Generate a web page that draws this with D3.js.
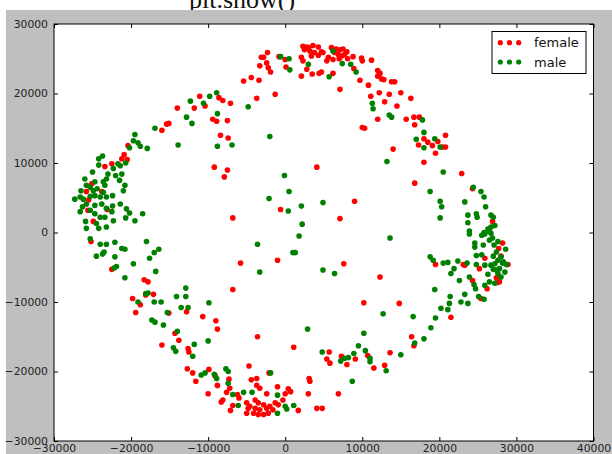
<!DOCTYPE html>
<html><head><meta charset="utf-8">
<script src="https://cdn.jsdelivr.net/npm/d3@7"></script>
<style>html,body{margin:0;padding:0;background:#fff;} svg{display:block;}</style>
</head><body>
<svg id="chart" width="612" height="454"></svg>
<script>
const xTicks = [-30000, -20000, -10000, 0, 10000, 20000, 30000, 40000];
const yTicks = [-30000, -20000, -10000, 0, 10000, 20000, 30000];
const seriesNames = ["female", "male"];
const captionText = "plt.show()";

const female = [
[-8600,19400],[-8100,19000],[-7100,18600],[-11100,19600],[-11800,17900],[-10400,18200],[-14000,17900],[-9400,16300],[-8900,16000],[-7500,16100],[-15100,15700],[-15400,15600],[-16000,14700],[-8400,14000],[-7400,13600],[-20400,12500],[-9200,9400],[-7500,9000],[-7900,8000],[-6800,2100],[-20900,11200],[-21200,10600],[-20500,10500],[-23400,9500],[-22500,9900],[-25100,7000],[-25800,5900],[-23800,5900],[-25500,4700],[-25600,3200],[-23100,3300],[-24900,1600],
[2300,26800],[2800,26700],[3600,26900],[4300,26700],[2500,26300],[3200,26100],[3800,25900],[3400,25400],[4700,26000],[3000,26600],[6000,26600],[6600,26400],[7100,26300],[7500,26400],[6400,25900],[6900,25600],[7300,25400],[7700,25600],[8000,26000],[5600,25200],[5400,24700],[6200,24900],[7000,25000],[4900,25900],[4300,25500],[2100,25200],[2300,24700],[2800,23500],[2100,22500],[3500,22800],[4400,22900],[4700,23100],[6200,22900],[8100,25000],[8800,25300],[8900,23600],[9900,25100],[10000,24700],[11200,24800],[9700,21900],[10800,21200],[7100,20600],
[-3100,25200],[-2800,25200],[-2300,25900],[-2400,24400],[-3300,24000],[-2200,23700],[-1900,23100],[-800,25300],[0,24900],[100,23800],[-4400,22300],[-5400,21800],[-3400,21900],[-1300,19900],[-3700,19300],
[12000,23300],[12300,22900],[12000,22500],[12500,22100],[12800,22000],[13800,21700],[14200,21700],[12200,20100],[13500,19900],[15000,20100],[11100,19600],[12900,18800],[14500,18200],[16300,19300],[12000,16300],[15700,16300],[16700,16600],[16800,15500],[10000,15100],[10300,15000],
[14000,12000],[4100,9400],[-600,3300],[9000,4500],[7100,2000],[16800,7100],
[17400,16600],[18000,13500],[17300,12600],[18500,13000],[19100,12500],[19800,13100],[20400,12300],[20800,12300],[20800,14000],[19500,11400],[18000,10100],[22900,8500],[24300,6300],[26900,1600],
[28200,-1500],[27700,-2300],[25900,-3700],[28000,-3400],[28900,-4600],[27400,-6500],[27800,-7100],[27500,-7200],[26200,-8100],[25200,-5200],[23100,-4600],[23300,-4700],[19500,-4600],[24300,-6900],[25400,-9500],[21500,-12200],
[-25200,-1300],[-22500,-5300],[-18300,-6800],[-17800,-7100],[-18100,-9000],[-17100,-8900],[-19800,-9500],[-18800,-10400],[-19400,-11500],[-15100,-11600],[-12800,-11400],[-10700,-12100],[-9000,-12700],[-8800,-13900],[-14300,-14500],[-13800,-15500],[-16000,-16200],[-12600,-16700],[-12500,-17200],[-12700,-19600],[-12000,-20200],[-11600,-21400],[-9900,-19700],[-9100,-20600],[-8800,-22000],[-10000,-23200],[-7300,-21100],[-7200,-22400],[-7600,-23000],[-8100,-24100],[-8300,-24400],[-6800,-24900],[-7100,-25600],[-6800,-8200],
[-5800,-4400],[-1000,-4000],[7600,-4500],[12300,-6400],[10200,-10100],[14800,-10200],[-3600,-15000],[1100,-16500],[16400,-15000],[16700,-16300],[13600,-17300],[5700,-17200],[5400,-18200],[5800,-18800],[7300,-17800],[9100,-18200],[10700,-17700],[11500,-19500],[12900,-19100],[8000,-19000],[3100,-21000],[3200,-21400],[3000,-23200],[6900,-23200],[4100,-25300],[4800,-25300],
[-4700,-19200],[-2100,-20200],[-4400,-21200],[-3700,-21000],[-3700,-22000],[-3300,-22400],[-6200,-23300],[-2400,-23200],[-1000,-22200],[400,-22500],[700,-22900],[0,-23200],[-6000,-23800],[-5000,-24500],[-4600,-25000],[-3900,-24100],[-3500,-24500],[-2800,-24800],[-2400,-25300],[-2000,-25000],[-1300,-24500],[-900,-24800],[-300,-24100],[-5000,-26000],[-4100,-26000],[-3500,-26200],[-2800,-26200],[1700,-25600],[-1600,-25500],[-2200,-26000],[-3300,-25500],[-3900,-25300],[-4800,-25300]
];

const male = [
[-8900,20100],[-9800,19600],[-12300,18900],[-10600,18600],[-8800,17100],[-12800,16600],[-12100,15700],[-16900,15000],[-8800,12400],[-6900,12600],[-13900,12600],[-19500,14100],[-19700,13200],[-19100,12900],[-20200,12200],[-18800,12400],[-17900,12100],[-23700,11000],[-24200,10600],[-24200,9700],[-22300,9200],[-21700,9900],[-21400,9600],[-20700,10000],[-21200,8400],[-22000,8200],[-23000,8400],[-23200,7700],[-23600,7300],[-23400,6800],[-25000,8700],[-26000,7700],[-25800,6800],[-24700,7300],[-25300,6500],[-24900,6000],[-24400,6300],[-23600,5800],[-23200,5100],[-24000,5100],[-24700,5300],[-25300,5200],[-26500,6000],[-26600,5100],[-27300,4800],[-26200,4800],[-25800,4100],[-26300,3700],[-26600,3000],[-25300,3200],[-24700,3900],[-23800,4100],[-23200,3500],[-22400,3800],[-21400,4100],[-20800,6800],[-21500,7500],[-21000,6000],[-22400,5300],[-22500,3000],[-20600,3400],[-20200,2800],[-18500,2700],[-19500,1700],[-20700,2100],[-24700,2700],[-24000,2200],[-23400,2200],[-25900,1600],[-24500,1300],[-24200,600],[-23200,800],[-25800,600],[-22300,1700],
[6200,26100],[3000,24200],[5700,22400],[7400,24300],[8500,24200],[9200,23100],[-600,25300],[500,25000],[600,23400],[-4800,18100],[11300,18600],[11400,17800],[13500,16900],[13800,16600],[-2000,13800],[13200,10200],[-100,8200],[500,5900],[-2100,4900],[400,3100],[2100,3800],[4900,4300],[2200,1200],
[17800,16200],[18000,14400],[17000,13400],[19400,13500],[20100,12300],[18000,12200],[20500,8700],[18800,5900],[20100,4500],[20300,3700],[20100,2100],[24400,6500],[25400,5900],[25800,5100],[23300,4400],[26000,3700],[23700,2500],[24800,2700],[24900,2200],[23700,1400],[26700,2500],[27000,2200],[27200,1000],[26700,800],[26300,500],[23900,200],
[26500,100],[25800,0],[26900,-800],[27600,-1300],[28000,-3500],[28200,-4400],[27400,-5400],
[23900,-200],[25500,-400],[25900,-200],[26700,-100],[24600,-1500],[25700,-1800],[26500,-1100],[27100,-1800],[28600,-2400],[27400,-2800],[27000,-3400],[25500,-3200],[24800,-3300],[24600,-2100],[27600,-4000],[28300,-4200],[28700,-4600],[27200,-4500],[26700,-4700],[25900,-4700],[27000,-5300],[27800,-5200],[28500,-5700],[27600,-5900],[28000,-6400],[27200,-7300],[26300,-6000],[26500,-7100],[25900,-7600],[24800,-4600],[22400,-4100],[23600,-4400],[21100,-4300],[20500,-4400],[18800,-3500],[19200,-4000],[21900,-5200],[21500,-5900],[22600,-6900],[23900,-6400],[24500,-7500],[24700,-8100],[25100,-9200],[25800,-9600],[23300,-8900],[22800,-10000],[23700,-10200],[21400,-9200],[21300,-10200],[20200,-10900],[21100,-11100],[19500,-12300],[19400,-8200],[18900,-13700],[18000,-15300],
[-25300,-900],[-24000,-1700],[-23200,-1700],[-22100,-1400],[-21200,-2300],[-20800,-2400],[-23500,-2800],[-23700,-3100],[-24500,-3400],[-22100,-3500],[-21900,-4900],[-22200,-5100],[-19700,-4500],[-18000,-1300],[-16400,-2400],[-17000,-2900],[-17600,-3700],[-16800,-5600],[-20800,-6500],[-18100,-8800],[-17800,-8700],[-19100,-10000],[-17000,-10000],[-16100,-10000],[-17300,-12600],[-16900,-12900],[-15800,-13300],[-15300,-11500],[-14100,-9200],[-12900,-8000],[-12900,-9200],[-13500,-10800],[-12600,-10800],[-9900,-10100],[-10000,-15600],[-14000,-14200],[-14500,-16600],[-14200,-17100],[-11800,-16100],[-12000,-17800],[-10900,-20500],[-10400,-20200],[-9200,-20400],[-8900,-21000],[-7700,-19600],[-7400,-20000],[-7400,-21700],[-6800,-23300],
[1800,-500],[-3600,-1700],[1000,-2900],[1300,-2900],[-3300,-5700],[4900,-5400],[6400,-5900],[13600,-800],[12700,-11700],[16600,-12100],[2900,-13900],[10200,-14500],[9500,-16300],[16800,-15900],[10400,-17000],[15000,-17600],[4800,-17200],[7200,-18500],[7700,-18100],[8200,-18000],[8900,-17400],[11000,-18100],[11000,-18600],[13100,-19900],[8700,-21400],
[-1900,-20200],[-5400,-23000],[-4300,-23000],[-1000,-23400],[-6100,-24900],[0,-25000],[-1000,-26000],[1100,-24900],[200,-25400]
];

// ---- layout / style ----
const W = 612, H = 454;
const plot = {left: 54, right: 593.5, top: 24, bottom: 441};
const colors = {female: "#ff0000", male: "#008000"};
const dotR = 2.8;
const tickFont = "DejaVu Sans, Verdana, sans-serif";

const svg = d3.select("#chart");

// caption text above figure (partly hidden)
svg.append("text").attr("x", 189).attr("y", 8)
  .attr("font-family", "Liberation Serif, Times New Roman, serif")
  .attr("font-size", 26).attr("fill", "#111").text(captionText);

// figure background
svg.append("rect").attr("x", 6).attr("y", 10).attr("width", W - 6).attr("height", H - 10)
  .attr("fill", "#bfbfbf");

// plot area
svg.append("rect").attr("x", plot.left).attr("y", plot.top)
  .attr("width", plot.right - plot.left).attr("height", plot.bottom - plot.top)
  .attr("fill", "#ffffff");

const x = d3.scaleLinear().domain([-30000, 40000]).range([plot.left, plot.right]);
const y = d3.scaleLinear().domain([-30000, 30000]).range([plot.bottom, plot.top]);

const fmt = d => d < 0 ? "\u2212" + Math.abs(d) : String(d);

// points: female first, male on top
const g = svg.append("g");
g.selectAll("circle.f").data(female).enter().append("circle")
  .attr("cx", d => x(d[0])).attr("cy", d => y(d[1])).attr("r", dotR)
  .attr("fill", colors.female);
g.selectAll("circle.m").data(male).enter().append("circle")
  .attr("cx", d => x(d[0])).attr("cy", d => y(d[1])).attr("r", dotR)
  .attr("fill", colors.male);

function styleAxis(sel) {
  sel.select(".domain").remove();
  sel.selectAll(".tick line").attr("stroke", "#000").attr("stroke-width", 1);
  sel.selectAll(".tick text").attr("fill", "#222").attr("font-family", tickFont).attr("font-size", 10.8);
}

svg.append("g").attr("transform", `translate(0,${plot.bottom})`)
  .call(d3.axisBottom(x).tickValues(xTicks).tickFormat(fmt).tickSizeInner(-4).tickSizeOuter(0).tickPadding(3))
  .call(styleAxis);
svg.append("g").attr("transform", `translate(0,${plot.top})`)
  .call(d3.axisTop(x).tickValues(xTicks).tickFormat("").tickSizeInner(-4).tickSizeOuter(0))
  .call(styleAxis);
svg.append("g").attr("transform", `translate(${plot.left},0)`)
  .call(d3.axisLeft(y).tickValues(yTicks).tickFormat(fmt).tickSizeInner(-4).tickSizeOuter(0).tickPadding(6))
  .call(styleAxis);
svg.append("g").attr("transform", `translate(${plot.right},0)`)
  .call(d3.axisRight(y).tickValues(yTicks).tickFormat("").tickSizeInner(-4).tickSizeOuter(0))
  .call(styleAxis);

// frame
svg.append("rect").attr("x", plot.left).attr("y", plot.top)
  .attr("width", plot.right - plot.left).attr("height", plot.bottom - plot.top)
  .attr("fill", "none").attr("stroke", "#000").attr("stroke-width", 1);

// legend
const leg = svg.append("g");
leg.append("rect").attr("x", 492).attr("y", 31.5).attr("width", 94).attr("height", 42)
  .attr("fill", "#fff").attr("stroke", "#000").attr("stroke-width", 1);
seriesNames.forEach((name, i) => {
  const cy = 42.7 + i * 19.3;
  [500.3, 509.5, 518.7].forEach(cx => {
    leg.append("circle").attr("cx", cx).attr("cy", cy).attr("r", 2.6).attr("fill", colors[name]);
  });
  leg.append("text").attr("x", 534).attr("y", cy + 4.6)
    .attr("font-family", tickFont).attr("font-size", 13).attr("fill", "#111").text(name);
});
</script>
</body></html>
